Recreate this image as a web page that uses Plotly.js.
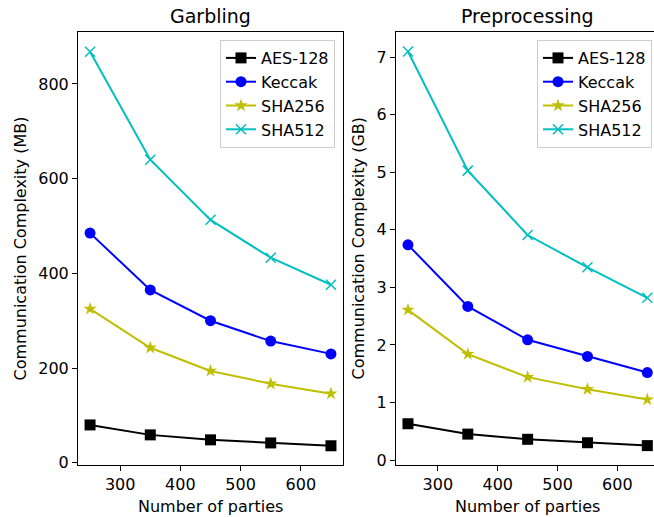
<!DOCTYPE html>
<html>
<head>
<meta charset="utf-8">
<script src="https://cdn.plot.ly/plotly-3.0.1.min.js"></script>
<style>html,body{margin:0;padding:0;background:#fff;}#chart{width:654px;height:517px;}</style>
</head>
<body>
<div id="chart"></div>
<script>
// ---- data ----
const parties = [250, 350, 450, 550, 650];
const seriesNames = ["AES-128", "Keccak", "SHA256", "SHA512"];
// Garbling (MB)
const garbAES = [80, 59, 48.5, 42, 36];
const garbKeccak = [485, 365, 300, 257, 230];
const garbSHA256 = [325, 243, 194, 167, 146];
const garbSHA512 = [868, 640, 513, 433, 376];
// Preprocessing (GB)
const preAES = [0.63, 0.45, 0.36, 0.30, 0.25];
const preKeccak = [3.74, 2.67, 2.09, 1.80, 1.52];
const preSHA256 = [2.61, 1.84, 1.44, 1.23, 1.05];
const preSHA512 = [7.10, 5.03, 3.91, 3.35, 2.82];
const xTicks = [300, 400, 500, 600];
const garbYTicks = [0, 200, 400, 600, 800];
const preYTicks = [0, 1, 2, 3, 4, 5, 6, 7];
const titles = ["Garbling", "Preprocessing"];
const yTitles = ["Communication Complexity (MB)", "Communication Complexity (GB)"];
const xTitle = "Number of parties";

// ---- styles ----
const W = 654, H = 517;
const FONT = "DejaVu Sans, sans-serif";
const FS = 16, TFS = 19;
const colors = ["#000000", "#0000ff", "#bfbf00", "#00bfbf"];
const symbols = ["square", "circle", "star", "x-thin-open"];
const msizes = [11, 11, 10, 10];

function mk(vals, i, xa, ya, leg) {
  return {
    x: parties, y: vals, name: seriesNames[i], type: "scatter", mode: "lines+markers",
    xaxis: xa, yaxis: ya, legend: leg, cliponaxis: false,
    line: {color: colors[i], width: 2},
    marker: {symbol: symbols[i], size: msizes[i], color: colors[i],
             line: {color: colors[i], width: i === 3 ? 1.5 : 0}}
  };
}
const data = [
  mk(garbAES, 0, "x", "y", "legend"), mk(garbKeccak, 1, "x", "y", "legend"),
  mk(garbSHA256, 2, "x", "y", "legend"), mk(garbSHA512, 3, "x", "y", "legend"),
  mk(preAES, 0, "x2", "y2", "legend2"), mk(preKeccak, 1, "x2", "y2", "legend2"),
  mk(preSHA256, 2, "x2", "y2", "legend2"), mk(preSHA512, 3, "x2", "y2", "legend2")
];

const px = v => v / W, py = v => 1 - v / H;
const tickFont = {family: FONT, size: FS, color: "#000"};
const axBase = {showgrid: false, zeroline: false, showline: true, linecolor: "#000", linewidth: 1,
  ticks: "outside", ticklen: 5, tickwidth: 1, tickcolor: "#000", tickfont: tickFont, fixedrange: true};
const legBase = {font: {family: FONT, size: FS, color: "#000"}, bgcolor: "rgba(255,255,255,0.8)",
  bordercolor: "#cccccc", borderwidth: 1, xanchor: "right", yanchor: "top", tracegroupgap: 0, itemwidth: 30};

function ann(text, x, y, size, angle) {
  return {text: text, x: px(x), y: py(y), xref: "paper", yref: "paper", showarrow: false,
    xanchor: "center", yanchor: "middle", textangle: angle || 0,
    font: {family: FONT, size: size, color: "#000"}};
}

const layout = {
  width: W, height: H, margin: {l: 0, r: 0, t: 0, b: 0}, showlegend: true,
  paper_bgcolor: "#fff", plot_bgcolor: "#fff", font: {family: FONT},
  xaxis: Object.assign({}, axBase, {domain: [px(78), px(343)], range: [230, 670], tickvals: xTicks, mirror: true}),
  yaxis: Object.assign({}, axBase, {domain: [py(465), py(32)], range: [-4.6, 909.6], tickvals: garbYTicks, mirror: true}),
  xaxis2: Object.assign({}, axBase, {domain: [px(396), 1], range: [230, 661.2], tickvals: xTicks, mirror: true, anchor: "y2"}),
  yaxis2: Object.assign({}, axBase, {domain: [py(465), py(32)], range: [-0.087, 7.44], tickvals: preYTicks, anchor: "x2"}),
  legend: Object.assign({}, legBase, {x: px(335), y: py(40)}),
  legend2: Object.assign({}, legBase, {x: px(652), y: py(40)}),
  annotations: [
    ann(titles[0], 210, 16, TFS), ann(titles[1], 527.5, 16, TFS),
    ann(yTitles[0], 20, 248.5, FS, -90), ann(yTitles[1], 358, 248.5, FS, -90),
    ann(xTitle, 210.5, 506, FS), ann(xTitle, 527.5, 506, FS)
  ]
};
Plotly.newPlot("chart", data, layout, {displayModeBar: false, staticPlot: true});
</script>
</body>
</html>
